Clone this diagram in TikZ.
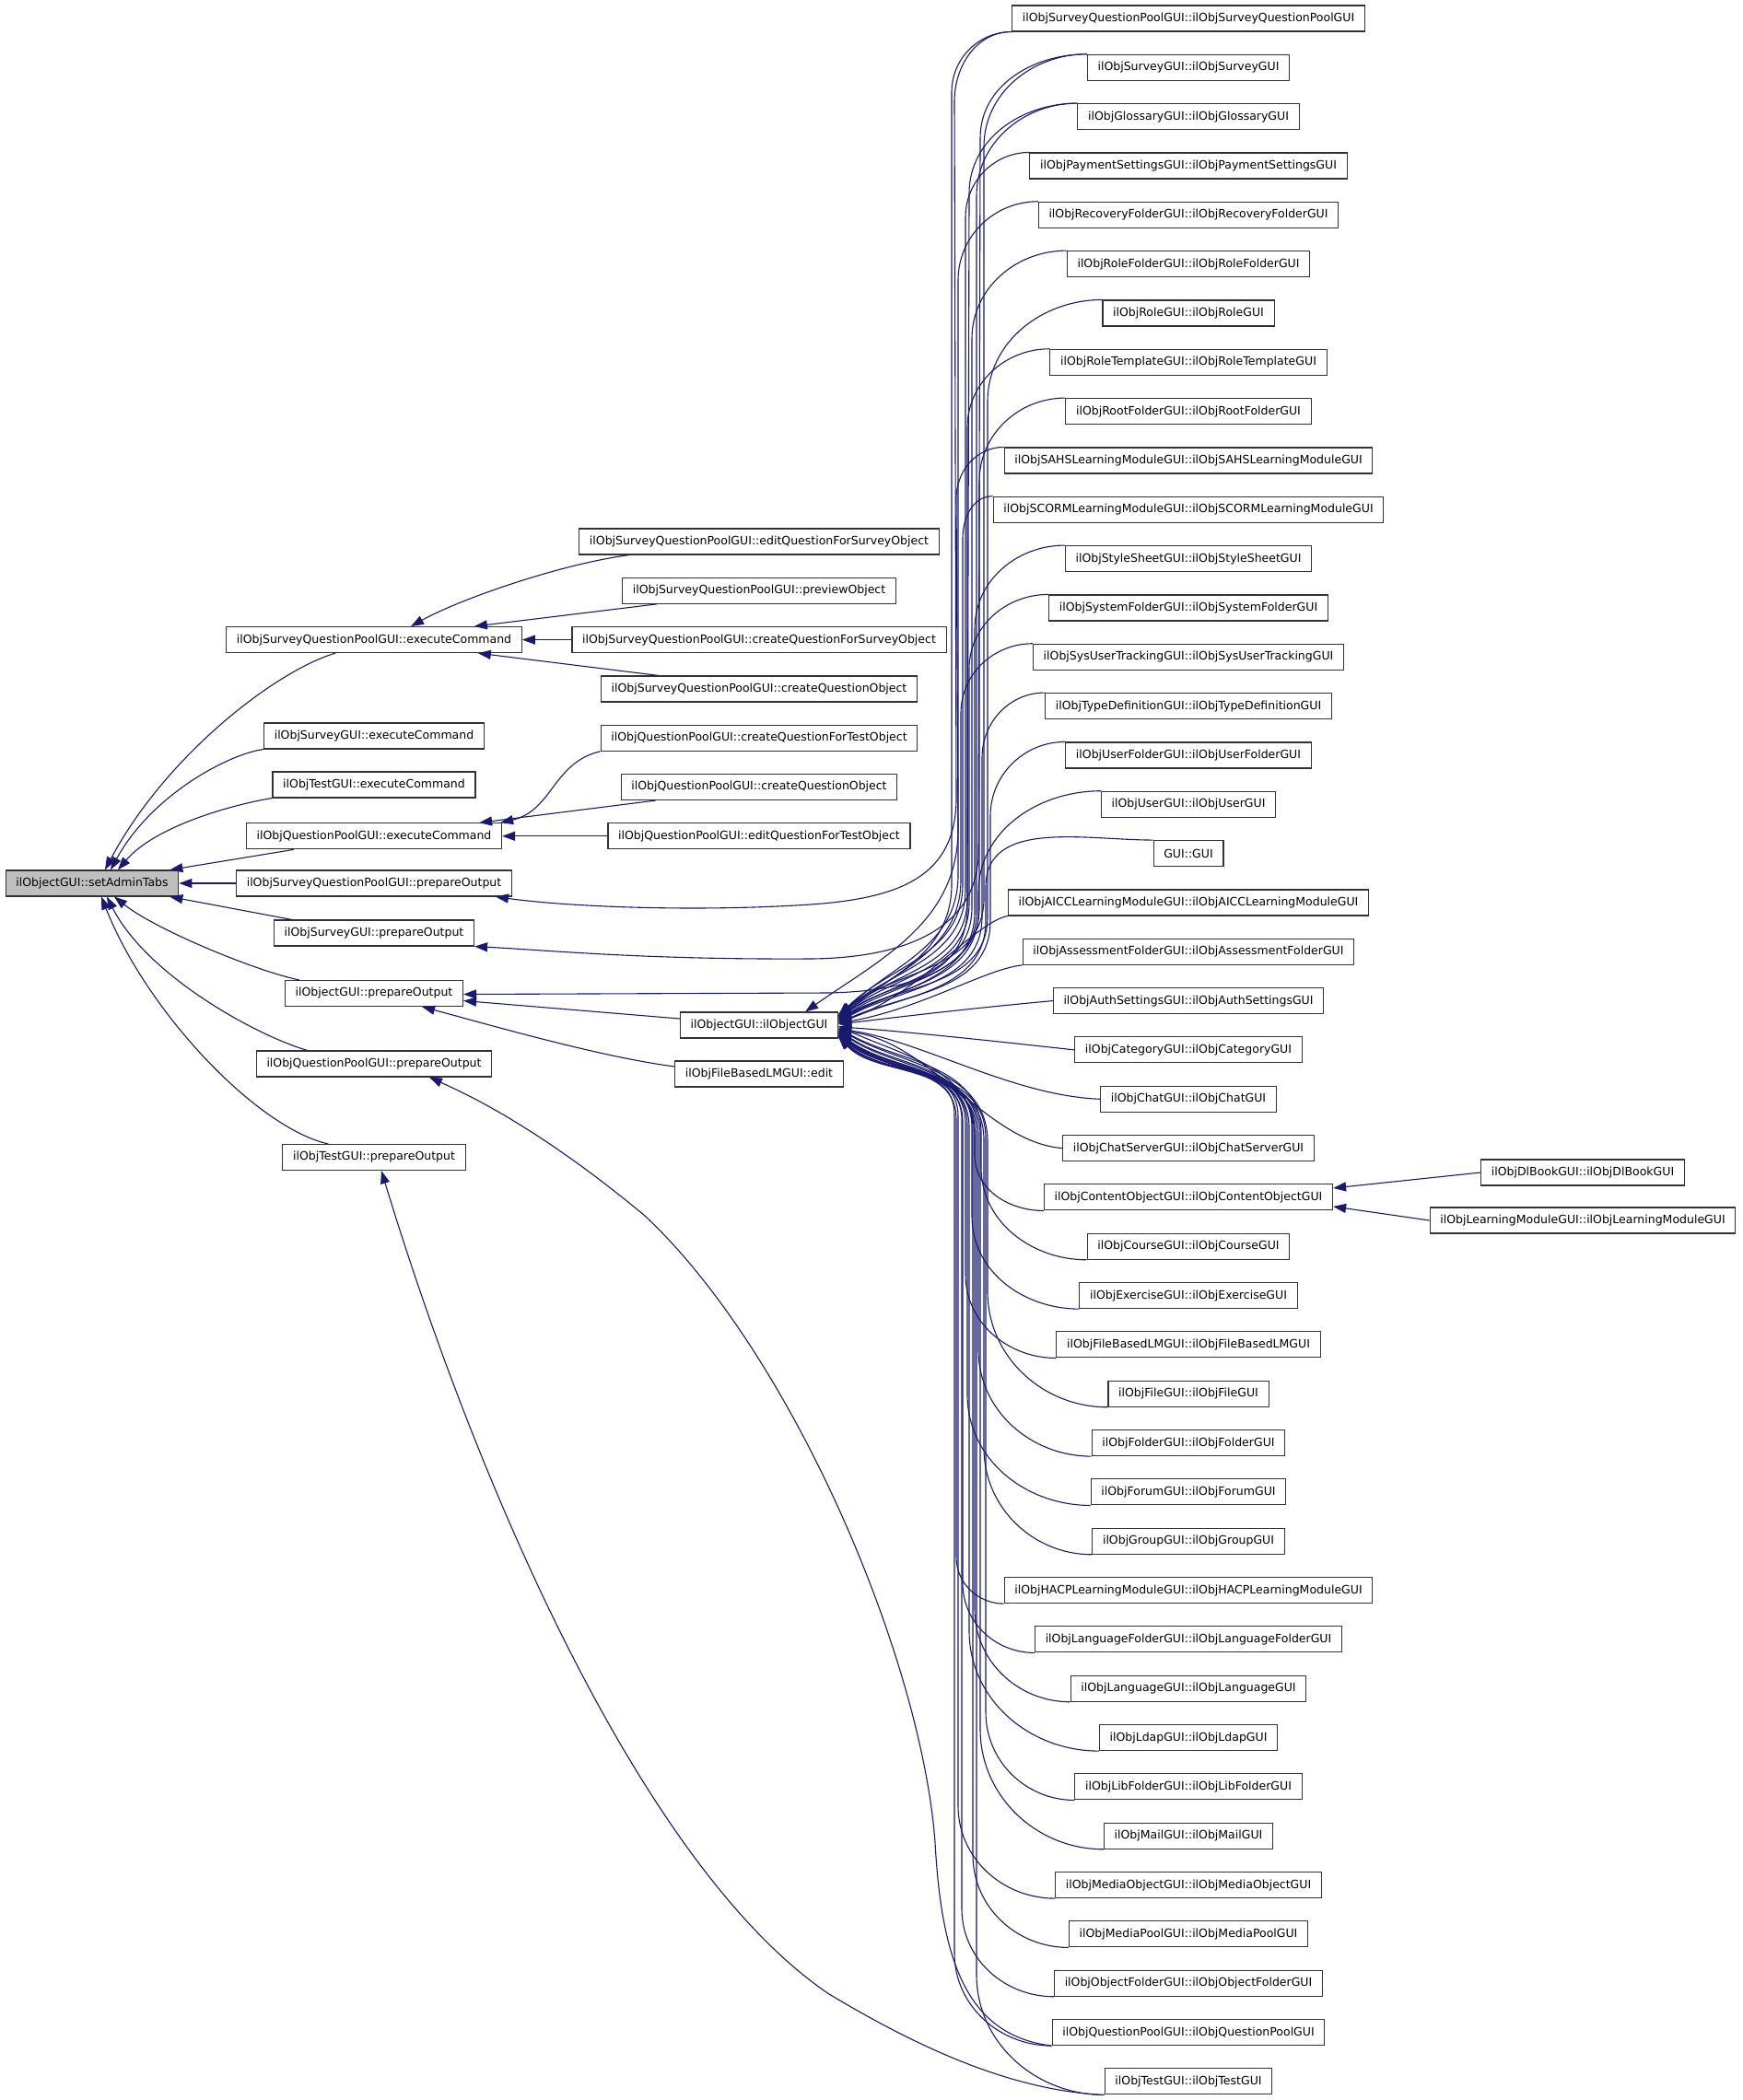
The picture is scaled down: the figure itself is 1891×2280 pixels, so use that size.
\documentclass[tikz,border=0pt]{standalone}
\usepackage{fontspec}
\setmainfont{DejaVu Sans}
\usetikzlibrary{arrows.meta,calc}
\definecolor{edgeblue}{RGB}{25,25,112}
\newcommand\upE[6]{%
  \pgfmathsetmacro\yEnt{-(20+53.33*#1-14+#3)}%
  \draw[cg] (r#1.north west) to[out=180,in=90] (#2,\yEnt) -- (#2,-#4) to[out=-90,in=#6] ($(og.east)+(0,#5)$);}
\newcommand\loE[6]{%
  \pgfmathsetmacro\yEnt{-(20+53.33*#1+14-#3)}%
  \draw[cg] (r#1.south west) to[out=180,in=-90] (#2,\yEnt) -- (#2,-#4) to[out=90,in=#6] ($(og.east)+(0,-#5)$);}
\begin{document}
\begin{tikzpicture}[x=0.5pt,y=0.5pt,
  box/.style={draw=black!80, line width=0.55pt, fill=white, inner xsep=5.6pt, inner ysep=0pt,
    minimum height=14pt, font=\fontsize{6.25}{7.5}\selectfont, anchor=center},
  rootbox/.style={box, fill=black!25},
  cg/.style={draw=edgeblue, line width=0.55pt, -{Triangle[length=7pt,width=5pt]}},
]
\fill[white] (0,0) rectangle (1891,-2280);
\useasboundingbox (0,0) rectangle (1891,-2280);

% root
\node[rootbox] (root) at (100,-959) {ilObjectGUI::setAdminTabs};
% second column
\node[box] (c1) at (406,-694.6) {ilObjSurveyQuestionPoolGUI::executeCommand};
\node[box] (c2) at (406,-799) {ilObjSurveyGUI::executeCommand};
\node[box] (c3) at (406,-852) {ilObjTestGUI::executeCommand};
\node[box] (c4) at (406,-907.8) {ilObjQuestionPoolGUI::executeCommand};
\node[box] (c5) at (406,-959) {ilObjSurveyQuestionPoolGUI::prepareOutput};
\node[box] (c6) at (406,-1013) {ilObjSurveyGUI::prepareOutput};
\node[box] (c7) at (406,-1078.5) {ilObjectGUI::prepareOutput};
\node[box] (c8) at (406,-1155) {ilObjQuestionPoolGUI::prepareOutput};
\node[box] (c9) at (406,-1256.5) {ilObjTestGUI::prepareOutput};
% middle column
\node[box] (m1) at (824,-588) {ilObjSurveyQuestionPoolGUI::editQuestionForSurveyObject};
\node[box] (m2) at (824,-641.3) {ilObjSurveyQuestionPoolGUI::previewObject};
\node[box] (m3) at (824,-694.6) {ilObjSurveyQuestionPoolGUI::createQuestionForSurveyObject};
\node[box] (m4) at (824,-748) {ilObjSurveyQuestionPoolGUI::createQuestionObject};
\node[box] (m5) at (824,-801.2) {ilObjQuestionPoolGUI::createQuestionForTestObject};
\node[box] (m6) at (824,-854.5) {ilObjQuestionPoolGUI::createQuestionObject};
\node[box] (m7) at (824,-907.8) {ilObjQuestionPoolGUI::editQuestionForTestObject};
\node[box] (og) at (824,-1113) {ilObjectGUI::ilObjectGUI};
\node[box] (ed) at (824,-1166) {ilObjFileBasedLMGUI::edit};
% right column
\foreach \n [count=\k from 0] in {
ilObjSurveyQuestionPoolGUI::ilObjSurveyQuestionPoolGUI,
ilObjSurveyGUI::ilObjSurveyGUI,
ilObjGlossaryGUI::ilObjGlossaryGUI,
ilObjPaymentSettingsGUI::ilObjPaymentSettingsGUI,
ilObjRecoveryFolderGUI::ilObjRecoveryFolderGUI,
ilObjRoleFolderGUI::ilObjRoleFolderGUI,
ilObjRoleGUI::ilObjRoleGUI,
ilObjRoleTemplateGUI::ilObjRoleTemplateGUI,
ilObjRootFolderGUI::ilObjRootFolderGUI,
ilObjSAHSLearningModuleGUI::ilObjSAHSLearningModuleGUI,
ilObjSCORMLearningModuleGUI::ilObjSCORMLearningModuleGUI,
ilObjStyleSheetGUI::ilObjStyleSheetGUI,
ilObjSystemFolderGUI::ilObjSystemFolderGUI,
ilObjSysUserTrackingGUI::ilObjSysUserTrackingGUI,
ilObjTypeDefinitionGUI::ilObjTypeDefinitionGUI,
ilObjUserFolderGUI::ilObjUserFolderGUI,
ilObjUserGUI::ilObjUserGUI,
GUI::GUI,
ilObjAICCLearningModuleGUI::ilObjAICCLearningModuleGUI,
ilObjAssessmentFolderGUI::ilObjAssessmentFolderGUI,
ilObjAuthSettingsGUI::ilObjAuthSettingsGUI,
ilObjCategoryGUI::ilObjCategoryGUI,
ilObjChatGUI::ilObjChatGUI,
ilObjChatServerGUI::ilObjChatServerGUI,
ilObjContentObjectGUI::ilObjContentObjectGUI,
ilObjCourseGUI::ilObjCourseGUI,
ilObjExerciseGUI::ilObjExerciseGUI,
ilObjFileBasedLMGUI::ilObjFileBasedLMGUI,
ilObjFileGUI::ilObjFileGUI,
ilObjFolderGUI::ilObjFolderGUI,
ilObjForumGUI::ilObjForumGUI,
ilObjGroupGUI::ilObjGroupGUI,
ilObjHACPLearningModuleGUI::ilObjHACPLearningModuleGUI,
ilObjLanguageFolderGUI::ilObjLanguageFolderGUI,
ilObjLanguageGUI::ilObjLanguageGUI,
ilObjLdapGUI::ilObjLdapGUI,
ilObjLibFolderGUI::ilObjLibFolderGUI,
ilObjMailGUI::ilObjMailGUI,
ilObjMediaObjectGUI::ilObjMediaObjectGUI,
ilObjMediaPoolGUI::ilObjMediaPoolGUI,
ilObjObjectFolderGUI::ilObjObjectFolderGUI,
ilObjQuestionPoolGUI::ilObjQuestionPoolGUI,
ilObjTestGUI::ilObjTestGUI}
  \node[box] (r\k) at (1290,{-(20+53.33*\k)}) {\n};
\node[box] (dl) at (1718,-1273) {ilObjDlBookGUI::ilObjDlBookGUI};
\node[box] (lm) at (1718,-1325) {ilObjLearningModuleGUI::ilObjLearningModuleGUI};

% edges into root
\draw[cg] ($(c1.south)+(-42,0)$) .. controls (300,-728) and (180,-820) .. ($(root.north)+(14,0)$);
\draw[cg] (c2.south west) .. controls (250,-818) and (165,-862) .. ($(root.north)+(20,0)$);
\draw[cg] (c3.south west) .. controls (260,-872) and (170,-895) .. ($(root.north)+(28,0)$);
\draw[cg] ($(c4.south west)+(52,0)$) -- ($(root.north east)+(-10,0)$);
\draw[cg] (c5.west) -- (root.east);
\draw[cg] ($(c6.north west)+(20,0)$) -- ($(root.south east)+(-10,0)$);
\draw[cg] ($(c7.north west)+(16,0)$) .. controls (280,-1055) and (170,-1010) .. ($(root.south)+(24,0)$);
\draw[cg] ($(c8.north west)+(56,0)$) .. controls (280,-1125) and (160,-1060) .. ($(root.south)+(16,0)$);
\draw[cg] ($(c9.north west)+(50,0)$) .. controls (280,-1225) and (160,-1100) .. ($(root.south)+(10,0)$);

% edges into c1
\draw[cg] ($(m1.south west)+(55,0)$) .. controls (610,-612) and (500,-650) .. ($(c1.north)+(40,0)$);
\draw[cg] ($(m2.south west)+(38,0)$) -- ($(c1.north east)+(-52,0)$);
\draw[cg] (m3.west) -- (c1.east);
\draw[cg] ($(m4.north west)+(63,0)$) -- ($(c1.south east)+(-48,0)$);
% edges into c4
\draw[cg] (m5.south west) .. controls (600,-828) and (600,-880) .. ($(c4.north east)+(-2,0)$);
\draw[cg] ($(m6.south west)+(38,0)$) -- ($(c4.north east)+(-25,0)$);
\draw[cg] (m7.west) -- (c4.east);
% edges into c7
\draw[cg] ($(og.west)+(0,7)$) -- ($(c7.east)+(0,-8)$);
\draw[cg] ($(ed.west)+(0,8)$) .. controls (650,-1147) and (540,-1115) .. ($(c7.south east)+(-45,0)$);

% long edges to prepareOutput nodes
\draw[cg] (r0.south west) to[out=180,in=90] (1036,-110) -- (1038,-870) .. controls (1036,-950) and (980,-975) .. (880,-982) .. controls (760,-990) and (620,-985) .. ($(c5.south east)+(-18,0)$);
\draw[cg] (r1.north west) to[out=180,in=90] (1064,-150) -- (1062,-930) .. controls (1058,-1010) and (980,-1040) .. (880,-1041) .. controls (700,-1042) and (600,-1032) .. (c6.south east);
\draw[cg] (r2.north west) to[out=180,in=90] (1052,-210) -- (1050,-990) .. controls (1046,-1060) and (980,-1076) .. (900,-1078) -- ($(c7.east)+(0,-1)$);
\draw[cg] (r41.south west) .. controls (1050,-2210) and (1022,-2130) .. (1015,-2000) .. controls (1000,-1800) and (860,-1470) .. (700,-1320) .. controls (580,-1220) and (500,-1185) .. ($(c8.south)+(60,0)$);
\draw[cg] (r42.south west) .. controls (1100,-2270) and (1000,-2225) .. (900,-2165) .. controls (700,-2030) and (520,-1620) .. ($(c9.south)+(8,0)$);

% content object callers
\draw[cg] (dl.west) -- ($(r24.east)+(0,10)$);
\draw[cg] (lm.west) -- ($(r24.east)+(0,-10)$);

% upper bundle into ilObjectGUI
\draw[cg] (r0.south west) to[out=180,in=90] (1033,-100) -- (1033,-960) to[out=-90,in=35] ($(og.east)+(0,12)$);
\upE{1}{1068}{100}{975}{10}{40}
\upE{2}{1060}{100}{990}{8}{35}
\upE{3}{1048}{70}{965}{11}{40}
\upE{4}{1040}{85}{950}{9}{45}
\upE{5}{1055}{95}{985}{7}{35}
\upE{6}{1072}{110}{995}{6}{30}
\upE{7}{1050}{85}{975}{9}{40}
\upE{8}{1063}{90}{985}{5}{35}
\draw[cg] (r9.north west) to[out=180,in=90] (1038,-541) -- (1040,-900) to[out=-90,in=35] ($(og.north east)+(-36,0)$);
\upE{10}{1045}{45}{960}{10}{45}
\upE{11}{1058}{90}{990}{4}{30}
\upE{12}{1052}{80}{980}{8}{38}
\upE{13}{1043}{75}{955}{6}{42}
\upE{14}{1066}{70}{995}{3}{30}
\upE{15}{1075}{80}{1000}{2}{25}
\upE{16}{1062}{110}{990}{5}{30}
\upE{17}{1070}{50}{1000}{1}{25}
% direct ones
\draw[cg] (r18.south west) .. controls (1060,-1000) and (990,-1085) .. ($(og.east)+(0,4)$);
\draw[cg] (r19.south west) .. controls (1070,-1052) and (1000,-1095) .. ($(og.east)+(0,2)$);
\draw[cg] (r20.west) .. controls (1050,-1095) and (960,-1106) .. ($(og.east)+(0,1)$);
\draw[cg] (r21.west) .. controls (1060,-1128) and (960,-1118) .. ($(og.east)+(0,-2)$);
\draw[cg] (r22.west) .. controls (1100,-1190) and (1000,-1130) .. ($(og.east)+(0,-4)$);
\draw[cg] (r23.west) .. controls (1070,-1240) and (1010,-1130) .. ($(og.east)+(0,-6)$);
% lower bundle
\loE{24}{1058}{60}{1235}{1}{-25}
\loE{25}{1065}{100}{1230}{3}{-30}
\loE{26}{1055}{100}{1225}{5}{-35}
\loE{27}{1048}{90}{1220}{7}{-40}
\loE{28}{1072}{125}{1240}{4}{-30}
\loE{29}{1062}{115}{1232}{6}{-35}
\loE{30}{1050}{120}{1222}{8}{-40}
\loE{31}{1068}{115}{1238}{9}{-35}
\loE{32}{1038}{50}{1215}{11}{-45}
\loE{33}{1045}{75}{1218}{10}{-42}
\loE{34}{1058}{100}{1228}{12}{-38}
\loE{35}{1052}{130}{1224}{7}{-40}
\loE{36}{1070}{95}{1236}{10}{-35}
\loE{37}{1064}{130}{1232}{11}{-38}
\loE{38}{1040}{100}{1212}{12}{-45}
\loE{39}{1056}{100}{1226}{9}{-40}
\loE{40}{1044}{95}{1216}{13}{-45}
\loE{41}{1036}{100}{1210}{12}{-48}
\loE{42}{1060}{130}{1230}{13}{-40}
\end{tikzpicture}
\end{document}
